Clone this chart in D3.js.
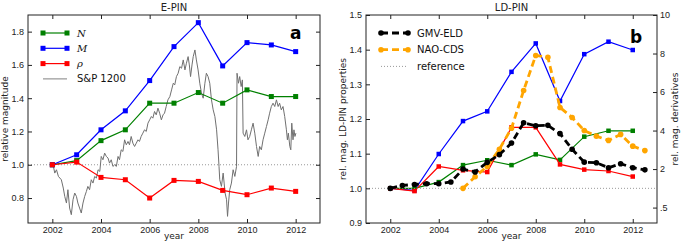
<!DOCTYPE html>
<html lang="en">
<head>
<meta charset="UTF-8">
<title>E-PIN / LD-PIN</title>
<script src="https://d3js.org/d3.v7.min.js"></script>
<style>
    body { margin: 0; background: #fff; }
    svg { display: block; font-family: "DejaVu Sans", sans-serif; }
    .tick text { font-size: 9px; fill: #222; }
    .tick line { stroke: #222; }
    .axis-label { font-size: 9px; fill: #222; }
    .title { font-size: 10px; fill: #222; }
    .legend-text { font-size: 10px; fill: #111; }
    .math { font-family: "DejaVu Serif", serif; font-style: italic; font-size: 10px; }
    .panel-tag { font-size: 17px; font-weight: bold; fill: #000; }
</style>
</head>
<body>
<svg width="685" height="247"></svg>
<script>
// ---- data ----
const years = [2002, 2003, 2004, 2005, 2006, 2007, 2008, 2009, 2010, 2011, 2012];
const xTicks = [2002, 2004, 2006, 2008, 2010, 2012];

// panel a: E-PIN
const ePinN   = [1.00, 1.025, 1.145, 1.21, 1.37, 1.37, 1.434, 1.37, 1.45, 1.41, 1.41];
const ePinM   = [1.00, 1.06, 1.21, 1.324, 1.506, 1.71, 1.854, 1.594, 1.734, 1.72, 1.68];
const ePinRho = [1.00, 1.016, 0.924, 0.91, 0.80, 0.906, 0.90, 0.846, 0.82, 0.86, 0.84];
const ePinTicks = [0.8, 1.0, 1.2, 1.4, 1.6, 1.8];

// S&P 1200, relative to start of 2002
const spYears = [2002.00, 2002.03, 2002.10, 2002.17, 2002.25, 2002.37, 2002.45, 2002.51, 2002.58, 2002.64, 2002.71,
    2002.78, 2002.85, 2002.92, 2002.99, 2003.05, 2003.12, 2003.19, 2003.26, 2003.33, 2003.40, 2003.46,
    2003.53, 2003.60, 2003.67, 2003.74, 2003.81, 2003.88, 2003.95, 2004.01, 2004.08, 2004.15, 2004.22,
    2004.29, 2004.35, 2004.42, 2004.49, 2004.56, 2004.63, 2004.70, 2004.76, 2004.83, 2004.90, 2004.97,
    2005.04, 2005.11, 2005.17, 2005.24, 2005.31, 2005.38, 2005.45, 2005.52, 2005.58, 2005.65, 2005.72,
    2005.79, 2005.86, 2005.93, 2006.00, 2006.07, 2006.13, 2006.20, 2006.27, 2006.34, 2006.41, 2006.48,
    2006.55, 2006.61, 2006.68, 2006.75, 2006.83, 2006.90, 2006.97, 2007.03, 2007.10, 2007.17, 2007.24,
    2007.31, 2007.38, 2007.45, 2007.51, 2007.58, 2007.63, 2007.68, 2007.74, 2007.79, 2007.86, 2007.92,
    2007.99, 2008.06, 2008.13, 2008.20, 2008.27, 2008.33, 2008.40, 2008.47, 2008.54, 2008.61, 2008.68,
    2008.75, 2008.81, 2008.85, 2008.88, 2008.95, 2009.02, 2009.06, 2009.10, 2009.16, 2009.20, 2009.24,
    2009.29, 2009.36, 2009.43, 2009.50, 2009.57, 2009.59, 2009.65, 2009.70, 2009.76, 2009.81, 2009.84,
    2009.91, 2009.98, 2010.04, 2010.11, 2010.18, 2010.25, 2010.32, 2010.39, 2010.46, 2010.52, 2010.59,
    2010.66, 2010.73, 2010.80, 2010.87, 2010.93, 2011.00, 2011.07, 2011.14, 2011.21, 2011.28, 2011.34,
    2011.41, 2011.48, 2011.55, 2011.62, 2011.66, 2011.70, 2011.76, 2011.80, 2011.84, 2011.89, 2011.93,
    2011.97, 2012.01];
const spValues = [1.00, 1.00, 0.95, 0.97, 0.93, 0.91, 0.86, 0.81, 0.77, 0.85, 0.74,
    0.70, 0.79, 0.83, 0.81, 0.77, 0.74, 0.71, 0.77, 0.81, 0.84, 0.87,
    0.85, 0.91, 0.89, 0.93, 0.92, 0.97, 0.96, 1.05, 1.03, 1.07, 1.05,
    1.04, 1.01, 1.03, 0.99, 1.00, 0.99, 1.05, 1.03, 1.09, 1.08, 1.15,
    1.12, 1.14, 1.12, 1.17, 1.13, 1.11, 1.13, 1.15, 1.14, 1.17, 1.19,
    1.21, 1.20, 1.25, 1.27, 1.29, 1.28, 1.32, 1.30, 1.34, 1.31, 1.27,
    1.30, 1.31, 1.35, 1.39, 1.41, 1.45, 1.49, 1.48, 1.53, 1.55, 1.59,
    1.58, 1.63, 1.57, 1.61, 1.65, 1.60, 1.53, 1.60, 1.65, 1.69, 1.63,
    1.57, 1.49, 1.43, 1.40, 1.49, 1.55, 1.53, 1.49, 1.39, 1.33, 1.29,
    1.21, 1.09, 0.99, 0.91, 0.87, 0.95, 0.89, 0.83, 0.79, 0.69, 0.77,
    0.85, 0.89, 0.97, 0.93, 0.99, 1.55, 1.49, 1.53, 1.47, 1.51, 1.19,
    1.17, 1.21, 1.15, 1.17, 1.21, 1.25, 1.19, 1.11, 1.05, 1.11, 1.09,
    1.15, 1.19, 1.23, 1.27, 1.31, 1.35, 1.37, 1.35, 1.39, 1.35, 1.37,
    1.33, 1.35, 1.29, 1.21, 1.15, 1.19, 1.11, 1.09, 1.25, 1.15, 1.21,
    1.17, 1.19];

// panel b: LD-PIN
const ldN   = [1.00, 1.00, 1.018, 1.067, 1.081, 1.067, 1.098, 1.082, 1.149, 1.166, 1.166];
const ldM   = [1.00, 0.994, 1.099, 1.194, 1.222, 1.336, 1.418, 1.252, 1.387, 1.423, 1.399];
const ldRho = [1.00, 0.992, 1.063, 1.052, 1.047, 1.176, 1.176, 1.069, 1.054, 1.050, 1.034];
const ldTicks = [0.9, 1.0, 1.1, 1.2, 1.3, 1.4, 1.5];

const gmvYears = [2002, 2002.5, 2003, 2003.5, 2004, 2004.5, 2005, 2005.5, 2006, 2006.5, 2007,
    2007.5, 2008, 2008.5, 2009, 2009.5, 2010, 2010.5, 2011, 2011.5, 2012, 2012.5];
const gmvEld = [1.0, 1.15, 1.2, 1.24, 1.24, 1.33, 2.0, 1.85, 2.35, 2.75, 3.35,
    4.4, 4.25, 4.27, 3.84, 3.03, 2.36, 2.33, 2.07, 2.28, 2.07, 1.96];
const naoYears = [2005, 2005.5, 2006, 2006.5, 2007, 2007.5, 2008, 2008.5, 2009, 2009.5,
    2010, 2010.5, 2011, 2011.5, 2012, 2012.5];
const naoCds = [1.0, 1.6, 2.14, 3.03, 4.12, 6.08, 7.9, 7.8, 5.2, 4.68, 4.0, 3.71, 3.49, 3.8, 3.19, 2.96];
const derivTicks = [0, 2, 4, 6, 8, 10];
const derivTickLabels = [".5", "2", "4", "6", "8", "10"];

// ---- layout ----
const svg = d3.select("svg");
const plotTop = 15, height = 208;

function frame(g, w, h, x, y, yRight) {
    g.append("g").attr("transform", `translate(0,${h})`)
        .call(d3.axisBottom(x).tickValues(xTicks).tickFormat(d3.format("d")).tickSize(-4).tickPadding(4));
    g.append("g")
        .call(d3.axisTop(x).tickValues(xTicks).tickFormat("").tickSize(-4));
    g.append("g")
        .call(d3.axisLeft(y.scale).tickValues(y.ticks).tickFormat(d3.format(".1f")).tickSize(-4).tickPadding(4));
    const r = yRight || { scale: y.scale, ticks: y.ticks, labels: null };
    g.append("g").attr("transform", `translate(${w},0)`)
        .call(d3.axisRight(r.scale).tickValues(r.ticks)
            .tickFormat(r.labels ? ((d, i) => r.labels[i]) : "")
            .tickSize(-4).tickPadding(3));
    g.selectAll(".domain").remove();
    g.append("rect").attr("width", w).attr("height", h)
        .attr("fill", "none").attr("stroke", "#222").attr("stroke-width", 1);
    g.append("text").attr("class", "axis-label").attr("x", w / 2).attr("y", h + 16)
        .attr("text-anchor", "middle").text("year");
}

function squareLine(g, x, y, xs, ys, color, size) {
    g.append("path").datum(ys)
        .attr("fill", "none").attr("stroke", color).attr("stroke-width", 1.2)
        .attr("d", d3.line().x((d, i) => x(xs[i])).y(d => y(d)));
    g.selectAll(null).data(ys).enter().append("rect")
        .attr("x", (d, i) => x(xs[i]) - size / 2).attr("y", d => y(d) - size / 2)
        .attr("width", size).attr("height", size).attr("fill", color);
}

// ---- panel a ----
const wA = 292;
const gA = svg.append("g").attr("transform", `translate(28,${plotTop})`);
const xA = d3.scaleLinear().domain([2001, 2013]).range([0, wA]);
const yA = d3.scaleLinear().domain([0.65, 1.9]).range([height, 0]);

gA.append("clipPath").attr("id", "clipA").append("rect").attr("width", wA).attr("height", height);
const plotA = gA.append("g").attr("clip-path", "url(#clipA)");
plotA.append("line").attr("x1", 0).attr("x2", wA).attr("y1", yA(1)).attr("y2", yA(1))
    .attr("stroke", "#999").attr("stroke-dasharray", "1,2");
plotA.append("path").datum(spValues)
    .attr("fill", "none").attr("stroke", "#707070").attr("stroke-width", 1)
    .attr("d", d3.line().x((d, i) => xA(spYears[i])).y(d => yA(d)));
squareLine(plotA, xA, yA, years, ePinN, "#008000", 5);
squareLine(plotA, xA, yA, years, ePinM, "#0000ff", 5);
squareLine(plotA, xA, yA, years, ePinRho, "#ff0000", 5);

frame(gA, wA, height, xA, { scale: yA, ticks: ePinTicks });
svg.append("text").attr("class", "title").attr("x", 28 + wA / 2).attr("y", 11)
    .attr("text-anchor", "middle").text("E-PIN");
svg.append("text").attr("class", "axis-label")
    .attr("transform", `translate(8,${plotTop + height / 2}) rotate(-90)`)
    .attr("text-anchor", "middle").text("relative magnitude");
gA.append("text").attr("class", "panel-tag").attr("x", 262).attr("y", 24).text("a");

// legend a
const legA = [
    { label: "N", color: "#008000", math: true },
    { label: "M", color: "#0000ff", math: true },
    { label: "ρ", color: "#ff0000", math: true },
    { label: "S&P 1200", color: "#808080", math: false }
];
legA.forEach((d, i) => {
    const ly = 18 + i * 15.3;
    gA.append("line").attr("x1", 15).attr("x2", 39).attr("y1", ly).attr("y2", ly)
        .attr("stroke", d.color).attr("stroke-width", d.math ? 1.2 : 1);
    if (d.math) {
        [15, 39].forEach(px => gA.append("rect").attr("x", px - 2.5).attr("y", ly - 2.5)
            .attr("width", 5).attr("height", 5).attr("fill", d.color));
    }
    gA.append("text").attr("class", d.math ? "legend-text math" : "legend-text")
        .attr("x", 49).attr("y", ly).attr("dy", "0.35em").text(d.label);
});

// ---- panel b ----
const wB = 291;
const gB = svg.append("g").attr("transform", `translate(366,${plotTop})`);
const xB = d3.scaleLinear().domain([2001, 2013]).range([0, wB]);
const yB = d3.scaleLinear().domain([0.9, 1.5]).range([height, 0]);
const yR = d3.scaleLinear().domain([-0.8, 10]).range([height, 0]);

gB.append("clipPath").attr("id", "clipB").append("rect").attr("width", wB).attr("height", height);
const plotB = gB.append("g").attr("clip-path", "url(#clipB)");
squareLine(plotB, xB, yB, years, ldM, "#0000ff", 4.5);
squareLine(plotB, xB, yB, years, ldN, "#008000", 4.5);
squareLine(plotB, xB, yB, years, ldRho, "#ff0000", 4.5);

plotB.append("line").attr("x1", 0).attr("x2", wB).attr("y1", yR(1)).attr("y2", yR(1))
    .attr("stroke", "#999").attr("stroke-dasharray", "1,2");

function dashedDots(g, xs, ys, color) {
    g.append("path").datum(ys)
        .attr("fill", "none").attr("stroke", color).attr("stroke-width", 2.8)
        .attr("stroke-dasharray", "7,4")
        .attr("d", d3.line().x((d, i) => xB(xs[i])).y(d => yR(d)));
    g.selectAll(null).data(ys).enter().append("circle")
        .attr("cx", (d, i) => xB(xs[i])).attr("cy", d => yR(d))
        .attr("r", 2.8).attr("fill", color);
}
dashedDots(plotB, naoYears, naoCds, "#ffa500");
dashedDots(plotB, gmvYears, gmvEld, "#000");

frame(gB, wB, height, xB, { scale: yB, ticks: ldTicks },
    { scale: yR, ticks: derivTicks, labels: derivTickLabels });
svg.append("text").attr("class", "title").attr("x", 366 + wB / 2).attr("y", 11)
    .attr("text-anchor", "middle").text("LD-PIN");
svg.append("text").attr("class", "axis-label")
    .attr("transform", `translate(346,${plotTop + height / 2}) rotate(-90)`)
    .attr("text-anchor", "middle").text("rel. mag. LD-PIN properties");
svg.append("text").attr("class", "axis-label")
    .attr("transform", `translate(678,${plotTop + height / 2}) rotate(-90)`)
    .attr("text-anchor", "middle").text("rel. mag. derivatives");
gB.append("text").attr("class", "panel-tag").attr("x", 264).attr("y", 28).text("b");

// legend b
const legB = [
    { label: "GMV-ELD", color: "#000", kind: "dash" },
    { label: "NAO-CDS", color: "#ffa500", kind: "dash" },
    { label: "reference", color: "#999", kind: "dot" }
];
legB.forEach((d, i) => {
    const ly = 18 + i * 16.7;
    const ln = gB.append("line").attr("x1", 15).attr("x2", 42).attr("y1", ly).attr("y2", ly)
        .attr("stroke", d.color);
    if (d.kind === "dash") {
        ln.attr("stroke-width", 2.8).attr("stroke-dasharray", "7,4");
        [15, 42].forEach(px => gB.append("circle").attr("cx", px).attr("cy", ly)
            .attr("r", 2.8).attr("fill", d.color));
    } else {
        ln.attr("stroke-width", 1).attr("stroke-dasharray", "1,2");
    }
    gB.append("text").attr("class", "legend-text")
        .attr("x", 51).attr("y", ly).attr("dy", "0.35em").text(d.label);
});
</script>
</body>
</html>
